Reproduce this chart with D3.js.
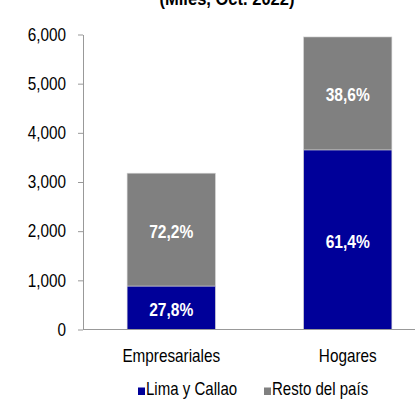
<!DOCTYPE html>
<html><head><meta charset="utf-8">
<script src="https://cdn.jsdelivr.net/npm/d3@7"></script>
<style>
body{margin:0;background:#fff;}
text{font-family:"Liberation Sans",Arial,sans-serif;}
</style></head>
<body>
<svg id="c" width="415" height="399"></svg>
<script>
const title = "(Miles, Oct. 2022)";
const categories = ["Empresariales", "Hogares"];
const seriesNames = ["Lima y Callao", "Resto del país"];
const limaCallao = [884, 3653];
const restoPais = [2295, 2297];
const limaPct = ["27,8%", "61,4%"];
const restoPct = ["72,2%", "38,6%"];
const yTicks = [0, 1000, 2000, 3000, 4000, 5000, 6000];
const colors = ["#000099", "#808080"];

const K = 0.85; // condensed look
function narrow(sel, k) {
  sel.each(function () {
    const t = d3.select(this);
    const xv = +t.attr("x") || 0;
    t.attr("x", xv / k).attr("transform", `scale(${k},1)`);
  });
}

const svg = d3.select("#c");
const xb = d3.scaleBand().domain(categories).range([83, 436]).paddingInner(0.5).paddingOuter(0.25);
const y = d3.scaleLinear().domain([0, 6000]).range([329.5, 34.5]);

svg.append("text").attr("x", 227).attr("y", 4.5).attr("text-anchor", "middle")
  .attr("font-weight", "bold").attr("font-size", 19).text(title).call(narrow, 0.87);

const data = categories.map((c, i) => ({c, lima: limaCallao[i], resto: restoPais[i], lp: limaPct[i], rp: restoPct[i]}));

const g = svg.append("g");
data.forEach(d => {
  const x0 = xb(d.c), w = xb.bandwidth();
  g.append("rect").attr("x", x0).attr("width", w)
    .attr("y", y(d.lima)).attr("height", y(0) - y(d.lima))
    .attr("fill", colors[0]).attr("stroke", "#d0d0d0").attr("stroke-width", 0.6);
  g.append("rect").attr("x", x0).attr("width", w)
    .attr("y", y(d.lima + d.resto)).attr("height", y(d.lima) - y(d.lima + d.resto))
    .attr("fill", colors[1]).attr("stroke", "#d0d0d0").attr("stroke-width", 0.6);
  g.append("text").attr("x", x0 + w / 2).attr("y", (y(0) + y(d.lima)) / 2 + 8)
    .attr("text-anchor", "middle").attr("fill", "#fff").attr("font-weight", "bold")
    .attr("font-size", 19).text(d.lp).call(narrow, 0.82);
  g.append("text").attr("x", x0 + w / 2).attr("y", (y(d.lima) + y(d.lima + d.resto)) / 2 + 8)
    .attr("text-anchor", "middle").attr("fill", "#fff").attr("font-weight", "bold")
    .attr("font-size", 19).text(d.rp).call(narrow, 0.82);
});

// y axis
const yAxis = d3.axisLeft(y).tickValues(yTicks).tickFormat(d3.format(",")).tickSize(5).tickSizeOuter(0);
const ya = svg.append("g").attr("transform", "translate(83,0)").call(yAxis);
ya.select(".domain").attr("stroke", "#999");
ya.selectAll(".tick line").attr("stroke", "#999");
ya.selectAll(".tick text").attr("font-size", 18).attr("fill", "#000").attr("x", -17)
  .attr("font-family", '"Liberation Sans",Arial,sans-serif').call(narrow, K);

// x axis
const xAxis = d3.axisBottom(xb).tickSize(0).tickSizeOuter(0);
const xa = svg.append("g").attr("transform", "translate(0,329.5)").call(xAxis);
xa.select(".domain").attr("stroke", "#999").attr("d", "M83,0H415");
xa.selectAll(".tick text").attr("font-size", 18).attr("fill", "#000").attr("dy", 0).attr("y", 32.5)
  .attr("font-family", '"Liberation Sans",Arial,sans-serif').call(narrow, K);

// legend
const legX = [138, 264];
seriesNames.forEach((s, i) => {
  svg.append("rect").attr("x", legX[i]).attr("y", 387.5).attr("width", 7).attr("height", 7.5).attr("fill", colors[i]);
  svg.append("text").attr("x", legX[i] + 8).attr("y", 395).attr("font-size", 17.5).text(s).call(narrow, 0.86);
});
</script>
</body></html>
